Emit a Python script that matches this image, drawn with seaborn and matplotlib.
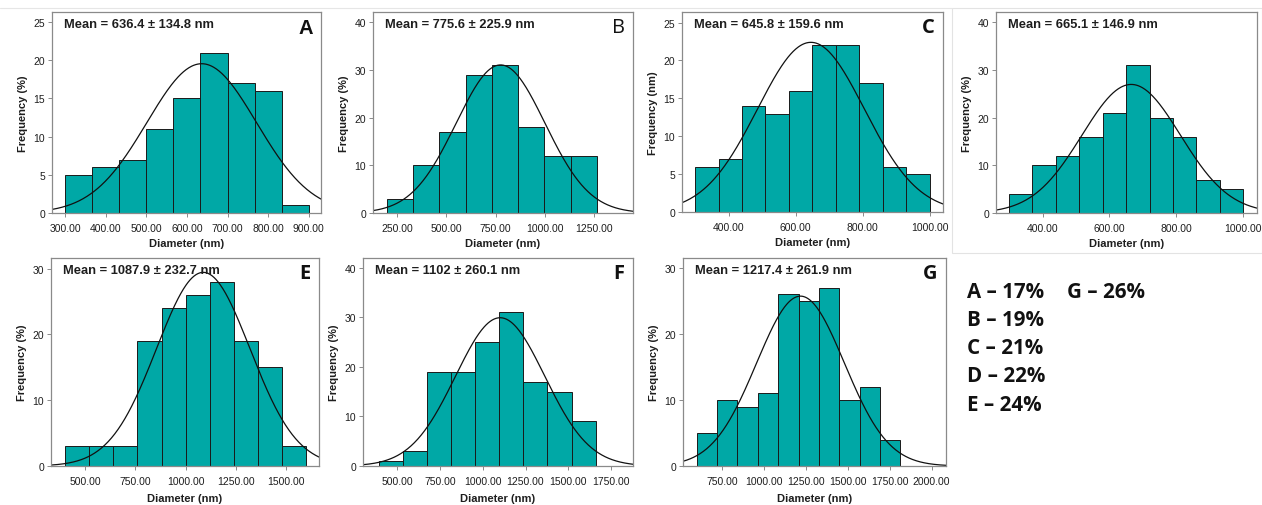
import numpy as np
import pandas as pd
import matplotlib
matplotlib.use("Agg")
import matplotlib.pyplot as plt
import seaborn as sns
from matplotlib.patches import Rectangle
from matplotlib.lines import Line2D

sns.set_theme(style="white")
plt.rcParams['font.family'] = ['Liberation Sans', 'DejaVu Sans']

# ---------------- data ----------------
panels = ["A", "B", "C", "D", "E", "F", "G"]
mean_nm = [636.4, 775.6, 645.8, 665.1, 1087.9, 1102.0, 1217.4]
sd_nm = [134.8, 225.9, 159.6, 146.9, 232.7, 260.1, 261.9]
mean_labels = ["Mean = 636.4 ± 134.8 nm", "Mean = 775.6 ± 225.9 nm",
               "Mean = 645.8 ± 159.6 nm", "Mean = 665.1 ± 146.9 nm",
               "Mean = 1087.9 ± 232.7 nm", "Mean = 1102 ± 260.1 nm",
               "Mean = 1217.4 ± 261.9 nm"]

freq_A = [5, 6, 7, 11, 15, 21, 17, 16, 1]
freq_B = [3, 10, 17, 29, 31, 18, 12, 12]
freq_C = [6, 7, 14, 13, 16, 22, 22, 17, 6, 5]
freq_D = [4, 10, 12, 16, 21, 31, 20, 16, 7, 5]
freq_E = [3, 3, 3, 19, 24, 26, 28, 19, 15, 3]
freq_F = [1, 3, 19, 19, 25, 31, 17, 15, 9]
freq_G = [5, 10, 9, 11, 26, 25, 27, 10, 12, 4]
freqs = [freq_A, freq_B, freq_C, freq_D, freq_E, freq_F, freq_G]

bin_lo = [300, 198, 300, 300, 400, 395, 598]
bin_hi = [900, 1265, 1000, 1000, 1600, 1659, 1813]

xticks_A = [300, 400, 500, 600, 700, 800, 900]
xticks_B = [250, 500, 750, 1000, 1250]
xticks_C = [400, 600, 800, 1000]
xticks_D = [400, 600, 800, 1000]
xticks_E = [500, 750, 1000, 1250, 1500]
xticks_F = [500, 750, 1000, 1250, 1500, 1750]
xticks_G = [750, 1000, 1250, 1500, 1750, 2000]
xticks_all = [xticks_A, xticks_B, xticks_C, xticks_D, xticks_E, xticks_F, xticks_G]

yticks_A = [0, 5, 10, 15, 20, 25]
yticks_B = [0, 10, 20, 30, 40]
yticks_C = [0, 5, 10, 15, 20, 25]
yticks_D = [0, 10, 20, 30, 40]
yticks_E = [0, 10, 20, 30]
yticks_F = [0, 10, 20, 30, 40]
yticks_G = [0, 10, 20, 30]
yticks_all = [yticks_A, yticks_B, yticks_C, yticks_D, yticks_E, yticks_F, yticks_G]

y_labels = ["Frequency (%)", "Frequency (%)", "Frequency (nm)", "Frequency (%)",
            "Frequency (%)", "Frequency (%)", "Frequency (%)"]
x_label = "Diameter (nm)"

legend_col1 = ["A – 17%", "B – 19%", "C – 21%", "D – 22%", "E – 24%"]
legend_col2 = ["G – 26%"]

# ---------------- layout (pixels) ----------------
W, H = 1262, 506
boxes = [(52, 13, 321, 214), (373, 13, 633, 214), (682, 13, 943, 213),
         (996, 13, 1257, 214), (51, 259, 319, 467), (363, 259, 633, 467),
         (683, 259, 946, 467)]
xlims = [(268, 930), (127, 1449), (261, 1040), (261, 1041),
         (329, 1665), (302, 1877), (516, 2086)]
ylims = [26.3, 42.2, 26.4, 42.2, 31.6, 42.0, 31.5]
letter_style = [("Liberation Sans", "bold"), ("Open Sans", "normal"),
                ("Open Sans", "bold"), None, ("Open Sans", "bold"),
                ("Open Sans", "bold"), ("Open Sans", "bold")]

bar_color = "#00A8A6"
frame_color = "#8a8a8a"
text_color = "#1e1e1e"

fig = plt.figure(figsize=(W / 100, H / 100), dpi=100)
fig.patch.set_facecolor("white")

# faint page borders from the source image
fig.add_artist(Line2D([0, 952 / W], [1 - 9 / H, 1 - 9 / H], color="#e6e6e6", lw=0.8))
fig.add_artist(Rectangle((952 / W, 1 - 254 / H), (1262 - 952) / W, (254 - 9) / H,
                         fill=False, edgecolor="#e3e3e3", lw=0.8))

for i, p in enumerate(panels):
    x0, y0, x1, y1 = boxes[i]
    ax = fig.add_axes([x0 / W, 1 - y1 / H, (x1 - x0) / W, (y1 - y0) / H])
    f = np.array(freqs[i], dtype=float)
    n = len(f)
    edges = np.linspace(bin_lo[i], bin_hi[i], n + 1)
    centers = (edges[:-1] + edges[1:]) / 2
    bw = edges[1] - edges[0]
    df = pd.DataFrame({"diameter": centers, "freq": f})
    sns.histplot(data=df, x="diameter", weights="freq", bins=[float(e) for e in edges], ax=ax,
                 color=bar_color, edgecolor="#1a1a1a", linewidth=0.7, alpha=1.0)
    # fitted normal curve from the stated mean and SD
    xs = np.linspace(xlims[i][0], xlims[i][1], 400)
    ys = f.sum() * bw / (sd_nm[i] * np.sqrt(2 * np.pi)) * np.exp(-0.5 * ((xs - mean_nm[i]) / sd_nm[i]) ** 2)
    curve = pd.DataFrame({"x": xs, "y": ys})
    sns.lineplot(data=curve, x="x", y="y", ax=ax, color="#111111", linewidth=0.9)

    ax.set_xlim(*xlims[i])
    ax.set_ylim(0, ylims[i])
    ax.set_xticks(xticks_all[i])
    ax.set_xticklabels([f"{v:.2f}" for v in xticks_all[i]], fontsize=7.5, color=text_color)
    ax.set_yticks(yticks_all[i])
    ax.set_yticklabels([str(v) for v in yticks_all[i]], fontsize=7.5, color=text_color)
    ax.tick_params(axis="y", direction="out", length=3, width=0.7, color=frame_color,
                   pad=2, left=True, right=False)
    ax.tick_params(axis="x", direction="out", length=3, width=0.7, color=frame_color,
                   pad=4.5 if i < 4 else 4.0, bottom=True, top=False)
    for s in ax.spines.values():
        s.set_color(frame_color)
        s.set_linewidth(0.9)
    ax.set_xlabel(x_label, fontsize=8, fontweight="bold", color=text_color,
                  labelpad=3.5 if i < 4 else 5.0)
    ax.set_ylabel(y_labels[i], fontsize=8, fontweight="bold", color=text_color, labelpad=4)
    ax.grid(False)

    ax.annotate(mean_labels[i], xy=(0, 1), xycoords="axes fraction",
                xytext=(8.8, -8.6), textcoords="offset points",
                ha="left", va="center", fontsize=9.3, fontweight="bold", color=text_color)
    if letter_style[i] is not None:
        fam, wt = letter_style[i]
        ax.annotate(p, xy=(1, 1), xycoords="axes fraction",
                    xytext=(-6, -11), textcoords="offset points",
                    ha="right", va="center", fontsize=14.5, fontweight=wt,
                    family=[fam, "DejaVu Sans"], color="#111111")

# legend-like text block
for k, t in enumerate(legend_col1):
    fig.text(967 / W, 1 - (292 + 28.3 * k) / H, t, ha="left", va="center",
             fontsize=14.8, fontweight="bold", family=["Open Sans", "DejaVu Sans"], color="#111111")
for k, t in enumerate(legend_col2):
    fig.text(1067 / W, 1 - (292 + 28.3 * k) / H, t, ha="left", va="center",
             fontsize=14.8, fontweight="bold", family=["Open Sans", "DejaVu Sans"], color="#111111")

fig.savefig("out.png", dpi=100, facecolor="white")
